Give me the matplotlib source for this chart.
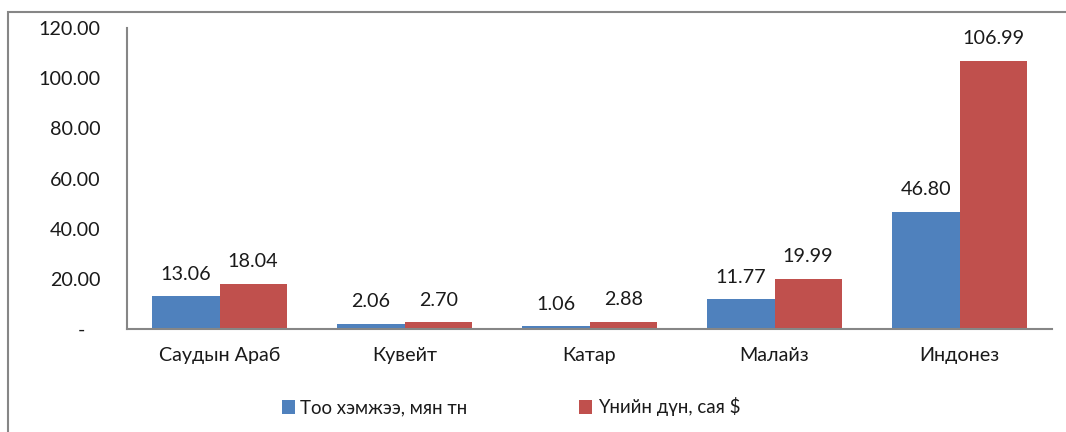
import matplotlib
matplotlib.use("Agg")
import matplotlib.pyplot as plt
import numpy as np
from matplotlib.patches import Rectangle
from matplotlib.ticker import FuncFormatter

plt.rcParams['font.family'] = ['Lato', 'Noto Sans', 'DejaVu Sans']

# data
countries = ["Саудын Араб", "Кувейт", "Катар", "Малайз", "Индонез"]
quantity = [13.06, 2.06, 1.06, 11.77, 46.80]   # Тоо хэмжээ, мян тн
value = [18.04, 2.70, 2.88, 19.99, 106.99]     # Үнийн дүн, сая $
series_names = ["Тоо хэмжээ, мян тн", "Үнийн дүн, сая $"]
y_ticks = [0, 20, 40, 60, 80, 100, 120]

BLUE = "#4F81BD"
RED = "#C0504D"
GREY = "#868686"
TXT = "#1a1a1a"
FS = 14.2

fig = plt.figure(figsize=(10.66, 4.32), dpi=100)
ax = fig.add_axes([127 / 1066, 1 - 329 / 432, (1052 - 127) / 1066, (329 - 28) / 432])

x = np.arange(len(countries))
w = 0.3636
b1 = ax.bar(x - w / 2, quantity, w, color=BLUE, label=series_names[0])
b2 = ax.bar(x + w / 2, value, w, color=RED, label=series_names[1])

for bars, vals in ((b1, quantity), (b2, value)):
    for bar, v in zip(bars, vals):
        ax.annotate(f"{v:.2f}", (bar.get_x() + bar.get_width() / 2, bar.get_height()),
                    xytext=(0, 16), textcoords="offset points",
                    ha="center", va="center", fontsize=FS, color=TXT)

ax.set_xlim(-0.5, len(countries) - 0.5)
ax.set_ylim(0, 120)
ax.set_yticks(y_ticks)
ax.yaxis.set_major_formatter(FuncFormatter(lambda v, p: "-   " if v == 0 else f"{v:.2f}"))
ax.set_xticks(x)
ax.set_xticklabels(countries)
ax.tick_params(axis="y", length=0, pad=19, labelsize=FS, labelcolor=TXT)
ax.tick_params(axis="x", length=0, pad=13, labelsize=FS, labelcolor=TXT)

for s in ("top", "right"):
    ax.spines[s].set_visible(False)
for s in ("left", "bottom"):
    ax.spines[s].set_color(GREY)
    ax.spines[s].set_linewidth(1.5)

fig.legend(loc="center", bbox_to_anchor=(511 / 1066, 1 - 407 / 432), ncol=2,
           frameon=False, fontsize=13.4, handlelength=0.7, handleheight=0.7,
           handletextpad=0.3, columnspacing=6.0, labelcolor=TXT)

# outer chart frame
fig.add_artist(Rectangle((8 / 1066, -0.1), 2, 1.1 - 12 / 432, transform=fig.transFigure,
                         fill=False, edgecolor=GREY, linewidth=1.5))

fig.savefig("out.png", dpi=100)
